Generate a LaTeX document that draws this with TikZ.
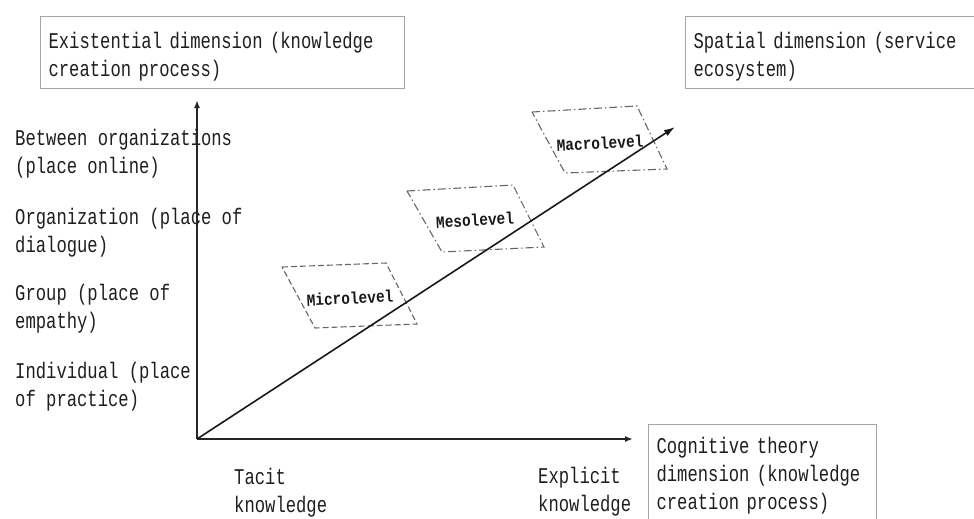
\documentclass[tikz,border=0pt]{standalone}
\usepackage{fontspec}
\usetikzlibrary{arrows.meta}
% condensed monospace faces for the labels
\newfontfamily\gothic[FakeStretch=0.765]{Liberation Mono}
\newfontfamily\levelfont[FakeStretch=0.85]{Liberation Mono}
% zero-width strut fixing the first baseline below a node's top edge
\newcommand\lnstrut[1]{\rule{0pt}{#1}}

\begin{document}
\begin{tikzpicture}[x=1pt,y=-1pt,
  txt/.style={font=\gothic\fontsize{22.5}{28}\selectfont, text=black!88},
  lbl/.style={txt, align=left, inner sep=0pt, anchor=north west},
  dimbox/.style={txt, draw=gray!70, line width=1.1pt, align=left,
    anchor=north west, inner xsep=8pt, inner ysep=0pt},
  lvltext/.style={font=\levelfont\bfseries\fontsize{17}{19}\selectfont,
    text=black!90, inner sep=0pt, rotate=3},
  lvlsolid/.style={draw=black!60, line width=1.1pt, dash pattern=on 6pt off 3pt},
  lvldashdot/.style={draw=black!60, line width=1.1pt,
    dash pattern=on 8pt off 3pt on 1.5pt off 3pt},
  axis/.style={line width=1.8pt, draw=black!85,
    -{Latex[length=8pt,width=6pt]}},
  growth/.style={line width=1.6pt, draw=black!90,
    -{Latex[length=11pt,width=7pt]}}
]
\clip (0,0) rectangle (974,519);
\fill[white] (0,0) rectangle (974,519);

% dimension boxes
\node[dimbox, text width=348pt] (exist) at (40,16)
  {\lnstrut{32pt}Existential dimension (knowledge\\creation process)\rule[-12pt]{0pt}{12pt}};
\node[dimbox, text width=330pt] (spatial) at (685,16)
  {\lnstrut{32pt}Spatial dimension (service\\ecosystem)\rule[-12pt]{0pt}{12pt}};
\node[dimbox, text width=212pt] (cognitive) at (648,424)
  {\lnstrut{29pt}Cognitive theory\\dimension (knowledge\\creation process)\rule[-40pt]{0pt}{40pt}};

% levels along the vertical axis
\node[lbl] (between) at (15,125) {\lnstrut{20pt}Between organizations\\(place online)};
\node[lbl] (organization) at (15,204) {\lnstrut{20pt}Organization (place of\\dialogue)};
\node[lbl] (group) at (15,280) {\lnstrut{20pt}Group (place of\\empathy)};
\node[lbl] (individual) at (15,358) {\lnstrut{20pt}Individual (place\\of practice)};

% poles of the horizontal axis
\node[lbl] (tacit) at (234,464) {\lnstrut{20pt}Tacit\\knowledge};
\node[lbl] (explicit) at (538,463) {\lnstrut{20pt}Explicit\\knowledge};

% axes
\coordinate (O) at (197,439);
\coordinate (ytip) at (197,100);
\coordinate (xtip) at (633,439);
\coordinate (dtip) at (675,127);
\draw[axis] (O) -- (ytip);
\draw[axis] (O) -- (xtip);

% micro, meso and macro levels
\draw[lvlsolid] (282,267) -- (386,263) -- (417,324) -- (315,328) -- cycle;
\draw[lvldashdot] (407,191) -- (513,185) -- (544,247) -- (442,252) -- cycle;
\draw[lvldashdot] (532,112) -- (637,106) -- (667,169) -- (565,173) -- cycle;
\node[lvltext] (micro) at (350,298) {Microlevel};
\node[lvltext] (meso) at (475,220) {Mesolevel};
\node[lvltext] (macro) at (600,143) {Macrolevel};

% diagonal growth arrow
\draw[growth] (O) -- (dtip);
\end{tikzpicture}
\end{document}
